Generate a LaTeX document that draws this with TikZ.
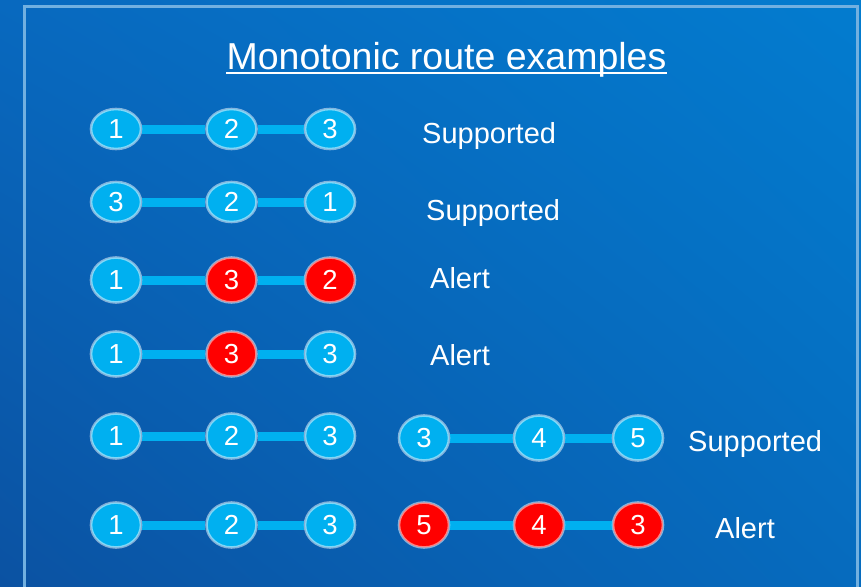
\documentclass[tikz,border=0pt]{standalone}
\usepackage{fontspec}
\setmainfont{Liberation Sans}
\usetikzlibrary{shapes.geometric,shadings}
\pgfdeclarelayer{bg}
\pgfdeclarelayer{edges}
\pgfsetlayers{bg,edges,main}
\definecolor{nodeblue}{HTML}{00B0F0}
\definecolor{framecol}{HTML}{72B0E0}
\definecolor{bgul}{HTML}{0869BF}
\definecolor{bgur}{HTML}{037CCF}
\definecolor{bgll}{HTML}{0B52A2}
\definecolor{bglr}{HTML}{066BBE}
\tikzset{
  bnode/.style={ellipse, minimum width=50pt, minimum height=45pt, inner sep=0pt,
    fill=nodeblue, draw=white, draw opacity=0.5, line width=2.6pt,
    text=white, font=\fontsize{27.5}{27.5}\selectfont},
  flat/.style={minimum height=40pt},
  rnode/.style={bnode, fill=red},
  link/.style={line width=9pt, nodeblue},
  lbl/.style={anchor=base west, inner sep=0pt, text=white, font=\fontsize{29}{29}\selectfont},
}
\begin{document}
\begin{tikzpicture}[x=1pt,y=-1pt]
\useasboundingbox (0,0) rectangle (861,586);
\begin{pgfonlayer}{bg}
\shade[upper left=bgul, upper right=bgur, lower left=bgll, lower right=bglr] (0,0) rectangle (861,586);
\draw[framecol, line width=3pt] (24.5,6.5) rectangle (857.5,620);
\end{pgfonlayer}

\node[anchor=base, inner sep=0pt, text=white, font=\fontsize{37.5}{37.5}\selectfont] (title) at (446.5,69) {Monotonic route examples};
\draw[white, line width=2pt] ([yshift=-3.5pt]title.base west) -- ([yshift=-3.5pt]title.base east);

% row 1
\node[bnode, flat] (r1a) at (116,129) {1};
\node[bnode, flat] (r1b) at (231.5,129) {2};
\node[bnode, flat] (r1c) at (330,129) {3};
\node[lbl] (t1) at (422,143) {Supported};
% row 2
\node[bnode, flat] (r2a) at (116,202) {3};
\node[bnode, flat] (r2b) at (231.5,202) {2};
\node[bnode, flat] (r2c) at (330,202) {1};
\node[lbl] (t2) at (426,220) {Supported};
% row 3
\node[bnode] (r3a) at (116,280) {1};
\node[rnode] (r3b) at (231.5,280) {3};
\node[rnode] (r3c) at (330,280) {2};
\node[lbl] (t3) at (430,288) {Alert};
% row 4
\node[bnode] (r4a) at (116,354) {1};
\node[rnode] (r4b) at (231.5,354) {3};
\node[bnode] (r4c) at (330,354) {3};
\node[lbl] (t4) at (430,365) {Alert};
% row 5
\node[bnode] (r5a) at (116,436) {1};
\node[bnode] (r5b) at (231.5,436) {2};
\node[bnode] (r5c) at (330,436) {3};
\node[bnode] (r5d) at (424,438) {3};
\node[bnode] (r5e) at (539,438) {4};
\node[bnode] (r5f) at (638,438) {5};
\node[lbl] (t5) at (688,451) {Supported};
% row 6
\node[bnode] (r6a) at (116,525) {1};
\node[bnode] (r6b) at (231.5,525) {2};
\node[bnode] (r6c) at (330,525) {3};
\node[rnode] (r6d) at (424,525) {5};
\node[rnode] (r6e) at (539,525) {4};
\node[rnode] (r6f) at (638,525) {3};
\node[lbl] (t6) at (715,538) {Alert};

\begin{pgfonlayer}{edges}
\foreach \r in {1,...,6}{
  \draw[link] (r\r a) -- (r\r b);
  \draw[link] (r\r b) -- (r\r c);
}
\foreach \r in {5,6}{
  \draw[link] (r\r d) -- (r\r e);
  \draw[link] (r\r e) -- (r\r f);
}
\end{pgfonlayer}
\end{tikzpicture}
\end{document}
